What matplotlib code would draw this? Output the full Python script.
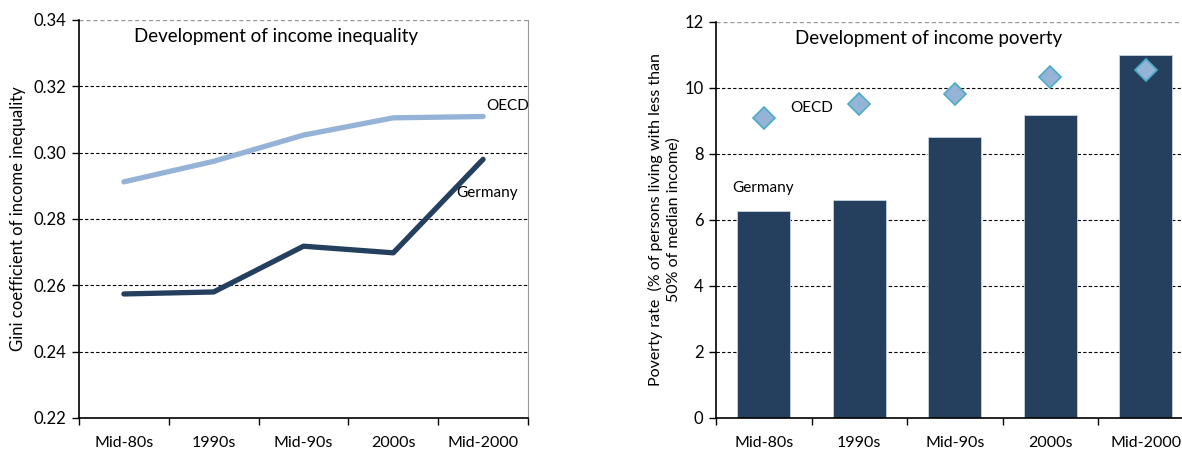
import matplotlib
matplotlib.use("Agg")
import matplotlib.pyplot as plt
import numpy as np

plt.rcParams['font.family'] = ['Lato', 'DejaVu Sans']

categories = ["Mid-80s", "1990s", "Mid-90s", "2000s", "Mid-2000"]
gini_germany = [0.2574, 0.2580, 0.2718, 0.2698, 0.2980]
gini_oecd = [0.2912, 0.2974, 0.3053, 0.3105, 0.3109]
poverty_germany = [6.26, 6.61, 8.51, 9.19, 11.01]
poverty_oecd = [9.08, 9.52, 9.81, 10.33, 10.56]
gini_ticks = [0.22, 0.24, 0.26, 0.28, 0.30, 0.32, 0.34]
poverty_ticks = [0, 2, 4, 6, 8, 10, 12]

dark = "#253F5F"
light = "#95B3D7"
teal = "#4BACC6"

W, H = 1182, 455
fig = plt.figure(figsize=(W / 100, H / 100), dpi=100)

def style_axes(ax, ticks, fmt):
    x = np.arange(len(categories))
    ax.set_xlim(-0.5, len(categories) - 0.5)
    ax.set_xticks(x)
    ax.set_xticklabels(categories, fontsize=11.5)
    ax.set_xticks(np.arange(len(categories) + 1) - 0.5, minor=True)
    ax.tick_params(axis='x', which='major', length=0, pad=13)
    ax.tick_params(axis='x', which='minor', length=5, width=1, direction='out')
    ax.set_ylim(ticks[0], ticks[-1])
    ax.set_yticks(ticks)
    ax.set_yticklabels([fmt(t) for t in ticks], fontsize=12)
    ax.tick_params(axis='y', length=5, width=1, direction='out', pad=4)
    for t in ticks[1:-1]:
        ax.axhline(t, color='black', linestyle=(0, (3, 2)), linewidth=0.8, zorder=0.5)
    ax.axhline(ticks[-1], color='#999999', linestyle=(0, (3, 2)), linewidth=1.0, zorder=0.5)
    ax.spines['top'].set_visible(False)
    ax.spines['right'].set_color('#999999')
    ax.spines['left'].set_color('black')
    ax.spines['bottom'].set_color('black')
    ax.spines['left'].set_linewidth(1.2)
    ax.spines['bottom'].set_linewidth(1.2)

# Left chart
ax1 = fig.add_axes([79 / W, 37 / H, 449 / W, 398 / H])
style_axes(ax1, gini_ticks, lambda t: f"{t:.2f}")
x = np.arange(len(categories))
ax1.plot(x, gini_oecd, color=light, linewidth=3.8, solid_capstyle='round', zorder=3)
ax1.plot(x, gini_germany, color=dark, linewidth=3.8, solid_capstyle='round', zorder=3)
ax1.text(0.11, 0.335, "Development of income inequality", fontsize=13.5, va='center', ha='left')
ax1.text(4.04, 0.314, "OECD", fontsize=11, va='center', ha='left')
ax1.text(3.70, 0.2877, "Germany", fontsize=11, va='center', ha='left')
ax1.set_ylabel("Gini coefficient of income inequality", fontsize=12, va='center')
ax1.yaxis.set_label_coords(-0.136, 0.5)

# Right chart
ax2 = fig.add_axes([716 / W, 37 / H, 477.5 / W, 396 / H])
style_axes(ax2, poverty_ticks, lambda t: f"{t:d}")
ax2.bar(x, poverty_germany, width=0.55, color=dark, edgecolor='#C8D3E0', linewidth=0.6, zorder=2)
ax2.plot(x, poverty_oecd, linestyle='none', marker='D', markersize=11,
         markerfacecolor=light, markeredgecolor=teal, markeredgewidth=1.2, zorder=4)
ax2.text(0.33, 11.5, "Development of income poverty", fontsize=13.5, va='center', ha='left')
ax2.text(0.28, 9.39, "OECD", fontsize=11, va='center', ha='left')
ax2.text(-0.33, 6.98, "Germany", fontsize=11, va='center', ha='left')
ax2.set_ylabel("Poverty rate  (% of persons living with less than\n50% of median income)",
               fontsize=11.5, linespacing=1.25, va='center', ha='center')
ax2.yaxis.set_label_coords(-0.108, 0.5)

fig.savefig("out.png", dpi=100)
